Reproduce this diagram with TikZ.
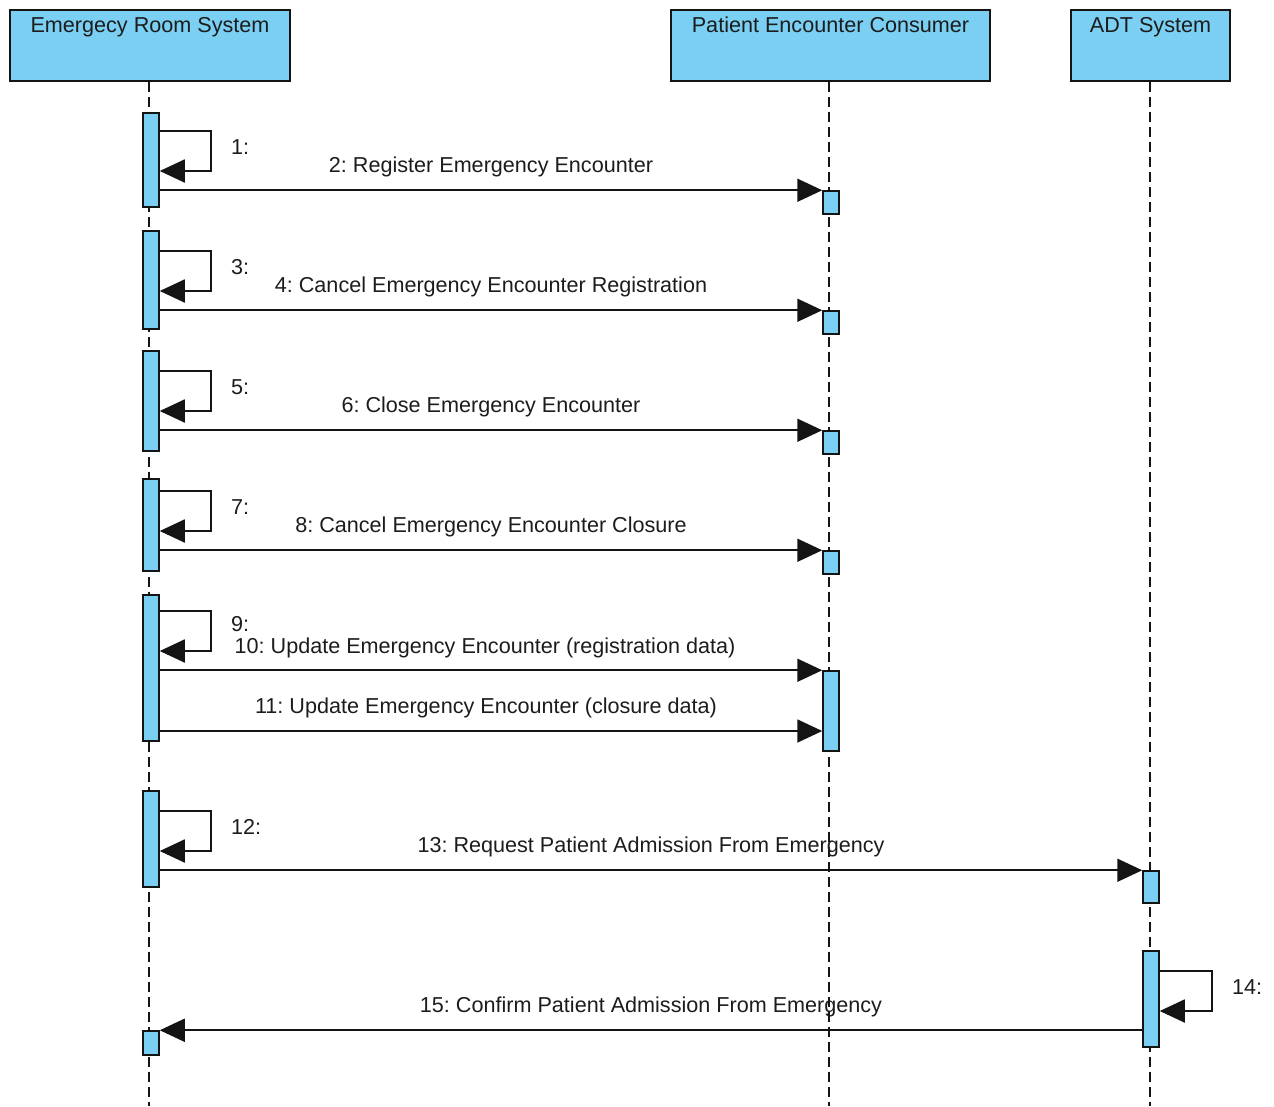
\documentclass[tikz,border=0pt]{standalone}
\usepackage{fontspec}
\setmainfont{Liberation Sans}
\usetikzlibrary{arrows.meta}
\definecolor{lb}{RGB}{122,207,243}
\definecolor{tx}{RGB}{28,28,28}
\definecolor{ln}{RGB}{20,20,20}
\frenchspacing
\begin{document}
\begin{tikzpicture}[x=1pt,y=-1pt,
 font=\fontsize{21.6}{26}\selectfont\frenchspacing, text=tx,
 head/.style={draw=ln, line width=1.8pt, fill=lb, inner sep=0},
 headtext/.style={anchor=base, yshift=-23pt, inner sep=0},
 actbar/.style={draw=ln, line width=1.5pt, fill=lb, minimum width=16pt, inner sep=0},
 life/.style={line width=1.5pt, dash pattern=on 10pt off 5pt, draw=ln},
 msg/.style={line width=1.8pt, draw=ln, -{Triangle[length=25pt,width=23pt]}},
 mlabel/.style={anchor=base, yshift=18pt, inner sep=0},
 llabel/.style={anchor=base west, inner sep=0}]
\useasboundingbox (0,0) rectangle (1274,1106);
% headers
\node[head, minimum width=280pt, minimum height=71pt,
  label={[headtext]north:Emergecy Room System}] (ers) at (150,45.5) {};
\node[head, minimum width=319pt, minimum height=71pt,
  label={[headtext]north:Patient Encounter Consumer}] (pec) at (830.5,45.5) {};
\node[head, minimum width=159pt, minimum height=71pt,
  label={[headtext]north:ADT System}] (adt) at (1150.5,45.5) {};
% lifelines
\coordinate (ersend) at (149,1106);
\coordinate (pecend) at (829,1106);
\coordinate (adtend) at (1150,1106);
\draw[life] (ers.south -| ersend) -- (ersend);
\draw[life] (pec.south -| pecend) -- (pecend);
\draw[life] (adt.south -| adtend) -- (adtend);
% activation bars: Emergency Room System
\node[actbar, minimum height=94pt] (e1) at (151,160) {};
\node[actbar, minimum height=98pt] (e2) at (151,280) {};
\node[actbar, minimum height=100pt] (e3) at (151,401) {};
\node[actbar, minimum height=92pt] (e4) at (151,525) {};
\node[actbar, minimum height=146pt] (e5) at (151,668) {};
\node[actbar, minimum height=96pt] (e6) at (151,839) {};
\node[actbar, minimum height=24pt] (e7) at (151,1043) {};
% activation bars: Patient Encounter Consumer
\node[actbar, minimum height=23pt] (p1) at (831,202.5) {};
\node[actbar, minimum height=23pt] (p2) at (831,322.5) {};
\node[actbar, minimum height=23pt] (p3) at (831,442.5) {};
\node[actbar, minimum height=23pt] (p4) at (831,562.5) {};
\node[actbar, minimum height=80pt] (p5) at (831,711) {};
% activation bars: ADT System
\node[actbar, minimum height=32pt] (d1) at (1151,887) {};
\node[actbar, minimum height=96pt] (d2) at (1151,999) {};
% self messages
\draw[msg] (e1.east |- 0,131) -- (211,131) -- (211,171) -- (e1.east |- 0,171);
\draw[msg] (e2.east |- 0,251) -- (211,251) -- (211,291) -- (e2.east |- 0,291);
\draw[msg] (e3.east |- 0,371) -- (211,371) -- (211,411) -- (e3.east |- 0,411);
\draw[msg] (e4.east |- 0,491) -- (211,491) -- (211,531) -- (e4.east |- 0,531);
\draw[msg] (e5.east |- 0,611) -- (211,611) -- (211,651) -- (e5.east |- 0,651);
\draw[msg] (e6.east |- 0,811) -- (211,811) -- (211,851) -- (e6.east |- 0,851);
\draw[msg] (d2.east |- 0,971) -- (1212,971) -- (1212,1011) -- (d2.east |- 0,1011);
\node[llabel] (l1) at (231,154) {1:};
\node[llabel] (l3) at (231,274) {3:};
\node[llabel] (l5) at (231,394) {5:};
\node[llabel] (l7) at (231,514) {7:};
\node[llabel] (l9) at (231,631) {9:};
\node[llabel] (l12) at (231,834) {12:};
\node[llabel] (l14) at (1232,994) {14:};
% messages
\draw[msg] (e1.east |- p1.north) -- node[mlabel] {2: Register Emergency Encounter} (p1.north west);
\draw[msg] (e2.east |- p2.north) -- node[mlabel] {4: Cancel Emergency Encounter Registration} (p2.north west);
\draw[msg] (e3.east |- p3.north) -- node[mlabel] {6: Close Emergency Encounter} (p3.north west);
\draw[msg] (e4.east |- p4.north) -- node[mlabel] {8: Cancel Emergency Encounter Closure} (p4.north west);
\draw[msg] (e5.east |- p5.north) -- node[mlabel, xshift=-6pt, yshift=-1pt] {10: Update Emergency Encounter (registration data)} (p5.north west);
\draw[msg] (e5.east |- 0,731) -- node[mlabel, xshift=-5pt] {11: Update Emergency Encounter (closure data)} (p5.west |- 0,731);
\draw[msg] (e6.east |- d1.north) -- node[mlabel] {13: Request Patient Admission From Emergency} (d1.north west);
\draw[msg] (d2.west |- e7.north) -- node[mlabel] {15: Confirm Patient Admission From Emergency} (e7.north east);
\end{tikzpicture}
\end{document}
